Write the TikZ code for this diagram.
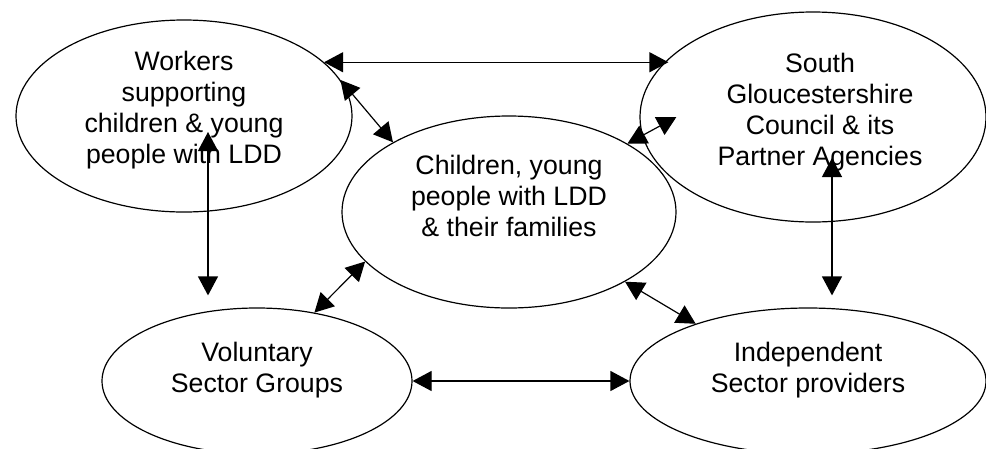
\documentclass[tikz,border=0pt]{standalone}
\usepackage{fontspec}
\setmainfont{Liberation Sans}
\usetikzlibrary{arrows.meta,shapes.geometric}
\tikzset{
    oval-box/.style = {draw=black, line width=1.2pt, ellipse, inner sep=0pt},
    oval-text/.style = {align=center, inner sep=0pt, font=\fontsize{26.7pt}{30.8pt}\selectfont},
    two-way/.style = {line width=1.2pt, >={Triangle[length=19pt,width=20pt]}, <->},
}

\begin{document}
\begin{tikzpicture}[x=1pt, y=-1pt]
\useasboundingbox (0,0) rectangle (986,448);

% the five groups
\node[oval-box, minimum width=336pt, minimum height=192pt] (workers) at (184,116) {};
\node[oval-box, minimum width=346pt, minimum height=210pt] (council) at (813,117) {};
\node[oval-box, minimum width=334pt, minimum height=192pt] (children) at (509,212) {};
\node[oval-box, minimum width=310pt, minimum height=146pt] (voluntary) at (257,381) {};
\node[oval-box, minimum width=356pt, minimum height=146pt] (independent) at (808,381) {};

\node[oval-text] (workers-text) at ([yshift=6pt]workers.center) {Workers\\supporting\\children \& young\\people with LDD};
\node[oval-text] (council-text) at ([xshift=7pt,yshift=5pt]council.center) {South\\Gloucestershire\\Council \& its\\Partner Agencies};
\node[oval-text] (children-text) at ([yshift=16pt]children.center) {Children, young\\people with LDD\\\& their families};
\node[oval-text] (voluntary-text) at ([yshift=11pt]voluntary.center) {Voluntary\\Sector Groups};
\node[oval-text] (independent-text) at ([yshift=11pt]independent.center) {Independent\\Sector providers};

% links
\draw[two-way] (workers.21) -- (workers.21 -| council.158);
\draw[two-way] (workers.13) -- (children.149);
\draw[two-way] (children.30) -- ([xshift=37pt]council.west);
\draw[two-way] ([xshift=24pt,yshift=-16pt]workers.center) -- ([xshift=-49pt,yshift=12pt]voluntary.north);
\draw[two-way] ([xshift=19pt,yshift=-41pt]council.center) -- ([xshift=24pt,yshift=12pt]independent.north);
\draw[two-way] (children.199) -- (voluntary.50);
\draw[two-way] (children.329) -- (independent.153);
\draw[two-way] (voluntary.east) -- (independent.west);
\end{tikzpicture}
\end{document}
